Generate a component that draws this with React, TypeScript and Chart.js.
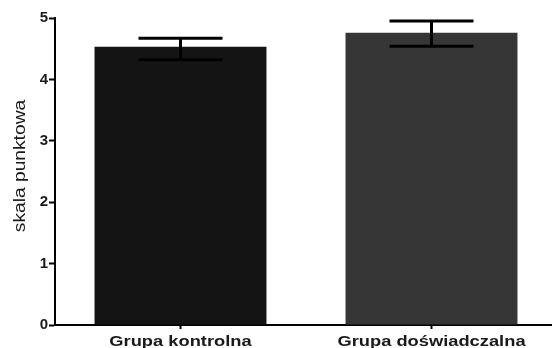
import React, { useEffect, useRef } from "react";
import { Chart, registerables, Plugin } from "chart.js";

Chart.register(...registerables);

// Group names, bar means and the error-bar extents (lower / upper)
const categories = ["Grupa kontrolna", "Grupa doświadczalna"];
const means = [4.53, 4.76];
const errLow = [4.32, 4.54];
const errHigh = [4.67, 4.95];
const barColors = ["#141414", "#363636"];
const yTicks = [0, 1, 2, 3, 4, 5];
const yTitle = "skala punktowa";

const FONT = "'Liberation Sans', Arial, sans-serif";

const errorBars: Plugin<"bar"> = {
  id: "errorBars",
  afterDatasetsDraw(chart) {
    const { ctx } = chart;
    const meta = chart.getDatasetMeta(0);
    const y = chart.scales.y;
    ctx.save();
    ctx.strokeStyle = "#000";
    ctx.lineWidth = 3;
    ctx.lineCap = "butt";
    meta.data.forEach((bar: any, i: number) => {
      const x = bar.x;
      const yLo = y.getPixelForValue(errLow[i]);
      const yHi = y.getPixelForValue(errHigh[i]);
      const half = 42;
      ctx.beginPath();
      ctx.moveTo(x, yLo);
      ctx.lineTo(x, yHi);
      ctx.moveTo(x - half, yHi);
      ctx.lineTo(x + half, yHi);
      ctx.moveTo(x - half, yLo);
      ctx.lineTo(x + half, yLo);
      ctx.stroke();
    });
    ctx.restore();
  },
};

// Wide, slightly stretched lettering for the category labels and the axis title
const wideText: Plugin<"bar"> = {
  id: "wideText",
  afterDraw(chart) {
    const { ctx, chartArea } = chart;
    const xs = chart.scales.x;
    ctx.save();
    ctx.fillStyle = "#1a1a1a";
    ctx.font = `bold 15px ${FONT}`;
    ctx.textAlign = "center";
    ctx.textBaseline = "alphabetic";
    categories.forEach((label, i) => {
      const x = xs.getPixelForValue(i);
      ctx.save();
      ctx.translate(x, chartArea.bottom + 21);
      ctx.scale(1.22, 1);
      ctx.fillText(label, 0, 0);
      ctx.restore();
    });
    ctx.font = `16px ${FONT}`;
    ctx.textBaseline = "middle";
    ctx.translate(21, 166);
    ctx.rotate(-Math.PI / 2);
    ctx.scale(1.2, 1);
    ctx.fillText(yTitle, 0, 0);
    ctx.restore();
  },
};

export default function App() {
  const ref = useRef<HTMLCanvasElement>(null);

  useEffect(() => {
    if (!ref.current) return;
    const chart = new Chart(ref.current, {
      type: "bar",
      data: {
        labels: categories,
        datasets: [
          {
            data: means,
            backgroundColor: barColors,
            borderWidth: 0,
            barPercentage: 0.685,
            categoryPercentage: 1,
          },
        ],
      },
      options: {
        responsive: false,
        animation: false,
        layout: { padding: { top: 18, right: 0, left: 0, bottom: 0 } },
        plugins: {
          legend: { display: false },
          tooltip: { enabled: false },
        },
        scales: {
          x: {
            afterFit: (s: any) => {
              s.height = 23;
            },
            border: { display: true, color: "#000", width: 2 },
            grid: {
              offset: false,
              drawOnChartArea: false,
              tickLength: 4,
              tickColor: "#000",
              tickWidth: 2,
            },
            ticks: { display: false },
          },
          y: {
            min: 0,
            max: 5,
            afterFit: (s: any) => {
              s.width = 55;
            },
            afterBuildTicks: (s: any) => {
              s.ticks = yTicks.map((v) => ({ value: v }));
            },
            border: { display: true, color: "#000", width: 2 },
            grid: {
              drawOnChartArea: false,
              tickLength: 6,
              tickColor: "#000",
              tickWidth: 2,
            },
            ticks: {
              color: "#1a1a1a",
              padding: 1,
              font: { family: FONT, size: 15, weight: "bold" },
            },
            title: { display: false },
          },
        },
      },
      plugins: [errorBars, wideText],
    });
    return () => chart.destroy();
  }, []);

  return (
    <div
      style={{
        position: "fixed",
        left: 0,
        top: 0,
        width: 552,
        height: 348,
        overflow: "hidden",
        background: "#fff",
      }}
    >
      <canvas ref={ref} width={557} height={348} style={{ display: "block" }} />
    </div>
  );
}
